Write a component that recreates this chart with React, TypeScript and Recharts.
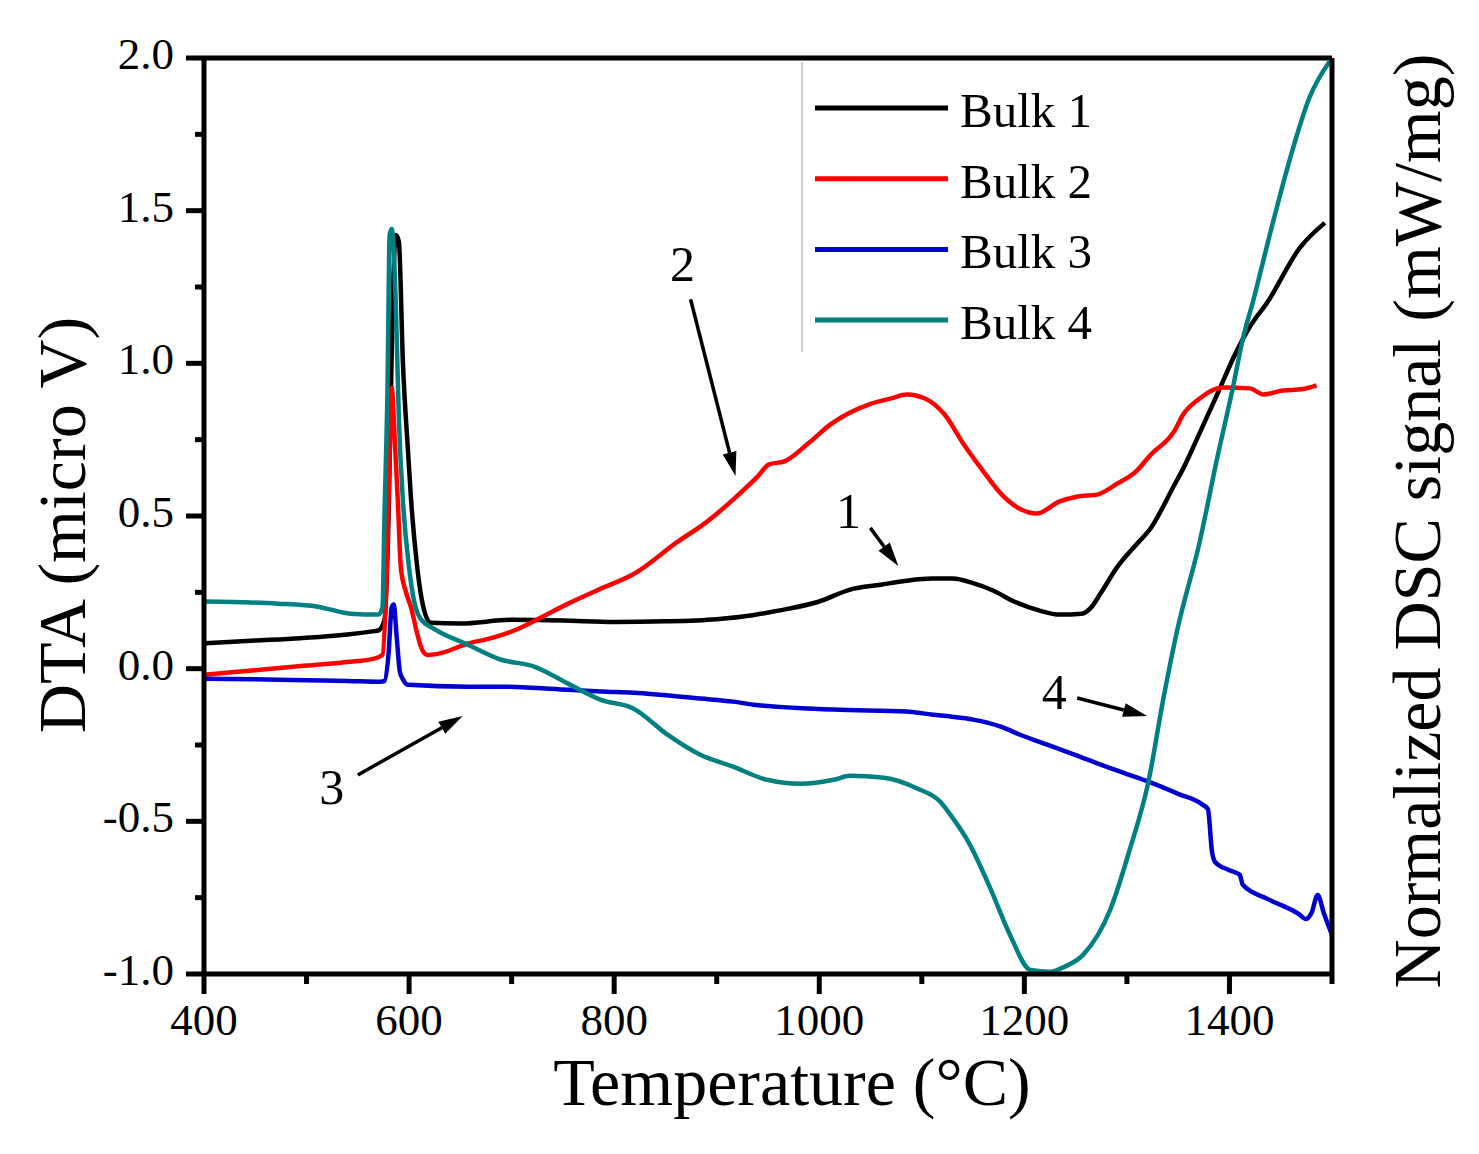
import React from 'react';
import { LineChart, Line, XAxis, YAxis, ReferenceLine, ReferenceDot, Legend } from 'recharts';

const FONT = '"Liberation Serif", "Times New Roman", serif';

const xTicks = [400, 500, 600, 700, 800, 900, 1000, 1100, 1200, 1300, 1400, 1500];
const yTicks = [-1, -0.75, -0.5, -0.25, 0, 0.25, 0.5, 0.75, 1, 1.25, 1.5, 1.75, 2];

const bulk1T = [400, 450, 494, 540, 566, 570, 576, 580, 584, 587, 590, 594, 599, 602, 608, 614, 621, 650, 700, 750, 800, 850, 900, 935, 960, 1000, 1030, 1060, 1085, 1110, 1130, 1150, 1170, 1190, 1215, 1234, 1256, 1265, 1275, 1290, 1309, 1323, 1346, 1355, 1368, 1388, 1407, 1420, 1437, 1469, 1493];
const bulk1V = [0.083, 0.092, 0.1, 0.112, 0.123, 0.125, 0.16, 0.5, 1.2, 1.42, 1.4, 1.0, 0.71, 0.55, 0.33, 0.2, 0.15, 0.148, 0.16, 0.158, 0.153, 0.155, 0.162, 0.175, 0.19, 0.22, 0.259, 0.275, 0.288, 0.295, 0.295, 0.28, 0.255, 0.22, 0.19, 0.177, 0.18, 0.2, 0.25, 0.33, 0.406, 0.459, 0.6, 0.656, 0.75, 0.898, 1.04, 1.12, 1.2, 1.38, 1.46];

const bulk2T = [400, 450, 500, 540, 566, 574, 578, 581, 583, 586, 589, 592, 597, 602, 608, 613, 618, 630, 657, 680, 706, 730, 755, 787, 819, 862, 890, 917, 940, 951, 966, 990, 1011, 1048, 1070, 1085, 1103, 1122, 1141, 1160, 1178, 1197, 1212, 1234, 1252, 1271, 1290, 1309, 1323, 1346, 1355, 1371, 1381, 1394, 1420, 1433, 1452, 1470, 1485];
const bulk2V = [-0.02, -0.005, 0.01, 0.022, 0.033, 0.045, 0.3, 0.7, 0.92, 0.75, 0.55, 0.33, 0.25, 0.2, 0.113, 0.06, 0.045, 0.05, 0.082, 0.1, 0.13, 0.17, 0.213, 0.262, 0.31, 0.416, 0.48, 0.557, 0.63, 0.669, 0.679, 0.74, 0.8, 0.865, 0.885, 0.898, 0.885, 0.833, 0.734, 0.646, 0.57, 0.521, 0.508, 0.547, 0.564, 0.57, 0.605, 0.646, 0.7, 0.777, 0.833, 0.885, 0.908, 0.921, 0.918, 0.898, 0.911, 0.915, 0.928];

const bulk3T = [400, 450, 500, 540, 572, 576, 580, 583, 585, 588, 591, 594, 599, 657, 689, 755, 787, 819, 884, 916, 936, 1014, 1085, 1111, 1128, 1150, 1177, 1197, 1225, 1250, 1275, 1300, 1321, 1350, 1374, 1379, 1383, 1386, 1400, 1410, 1413, 1437, 1469, 1474, 1480, 1486, 1492, 1500];
const bulk3V = [-0.033, -0.035, -0.038, -0.04, -0.043, -0.04, 0.05, 0.2, 0.21, 0.1, -0.01, -0.035, -0.053, -0.059, -0.059, -0.069, -0.075, -0.079, -0.098, -0.108, -0.118, -0.134, -0.14, -0.151, -0.157, -0.167, -0.19, -0.218, -0.252, -0.283, -0.315, -0.345, -0.37, -0.41, -0.446, -0.46, -0.6, -0.633, -0.66, -0.675, -0.708, -0.754, -0.807, -0.82, -0.8, -0.741, -0.8, -0.872];

const bulk4T = [400, 472, 511, 543, 570, 574, 576, 579, 581, 583, 587, 590, 594, 600, 605, 611, 624, 657, 689, 722, 755, 787, 819, 852, 884, 916, 949, 982, 1014, 1030, 1063, 1096, 1118, 1128, 1147, 1167, 1186, 1206, 1225, 1240, 1257, 1284, 1303, 1321, 1335, 1349, 1371, 1388, 1404, 1413, 1423, 1440, 1459, 1478, 1498];
const bulk4V = [0.22, 0.213, 0.203, 0.18, 0.177, 0.2, 0.5, 0.93, 1.42, 1.44, 1.2, 0.82, 0.55, 0.33, 0.22, 0.164, 0.131, 0.079, 0.03, 0.007, -0.049, -0.102, -0.131, -0.216, -0.282, -0.321, -0.364, -0.377, -0.364, -0.351, -0.357, -0.393, -0.436, -0.479, -0.577, -0.721, -0.872, -0.987, -0.993, -0.975, -0.938, -0.787, -0.59, -0.37, -0.108, 0.125, 0.416, 0.689, 0.931, 1.08, 1.203, 1.43, 1.67, 1.87, 1.99];

const seriesNames = ['Bulk 1', 'Bulk 2', 'Bulk 3', 'Bulk 4'];

const annotText = ['2', '1', '3', '4'];
const annotX = [866.7, 1028.4, 524.7, 1229.1];
const annotY = [1.27, 0.461, -0.443, -0.132];

const arrowFromX = [874.5, 1049.8, 550, 1251.5];
const arrowFromY = [1.21, 0.461, -0.348, -0.096];
const arrowToX = [918.3, 1077.1, 652.3, 1319.7];
const arrowToY = [0.631, 0.336, -0.155, -0.155];

const toPoints = (t: number[], v: number[]) => t.map((x, i) => ({ t: x, v: v[i] }));
const bulk1 = toPoints(bulk1T, bulk1V);
const bulk2 = toPoints(bulk2T, bulk2V);
const bulk3 = toPoints(bulk3T, bulk3V);
const bulk4 = toPoints(bulk4T, bulk4V);

const isMajorY = (v: number) => Math.abs(v * 2 - Math.round(v * 2)) < 1e-6;
const isMajorX = (v: number) => (v - 400) % 200 === 0;

const LeftTick = (p: any) => {
  const v = p.payload.value;
  const major = isMajorY(v);
  return (
    <g>
      <line x1={p.x} x2={p.x - (major ? 18 : 9)} y1={p.y} y2={p.y} stroke="#000" strokeWidth={5} />
      {major && (
        <text x={p.x - 30} y={p.y + 11} textAnchor="end" fontSize={45} fontFamily={FONT} fill="#000">
          {v.toFixed(1)}
        </text>
      )}
    </g>
  );
};

const RightTick = (p: any) => {
  const v = p.payload.value;
  const major = isMajorY(v);
  return <line x1={p.x} x2={p.x + (major ? 18 : 9)} y1={p.y} y2={p.y} stroke="#000" strokeWidth={5} />;
};

const BottomTick = (p: any) => {
  const v = p.payload.value;
  const major = isMajorX(v);
  return (
    <g>
      <line x1={p.x} x2={p.x} y1={p.y} y2={p.y + (major ? 20 : 10)} stroke="#000" strokeWidth={5} />
      {major && (
        <text x={p.x} y={p.y + 61} textAnchor="middle" fontSize={45} fontFamily={FONT} fill="#000">
          {v}
        </text>
      )}
    </g>
  );
};

const ArrowShape = (p: any) => {
  const { x1, y1, x2, y2 } = p;
  const ang = Math.atan2(y2 - y1, x2 - x1);
  const L = 24;
  const W = 7;
  const bx = x2 - L * Math.cos(ang);
  const by = y2 - L * Math.sin(ang);
  const px = -Math.sin(ang) * W;
  const py = Math.cos(ang) * W;
  return (
    <g>
      <line x1={x1} y1={y1} x2={bx} y2={by} stroke="#000" strokeWidth={3.5} />
      <polygon points={`${x2},${y2} ${bx + px},${by + py} ${bx - px},${by - py}`} fill="#000" />
    </g>
  );
};

const LegendBox = (props: any) => {
  const payload = props.payload || [];
  return (
    <svg width={330} height={310} style={{ display: 'block' }}>
      <line x1={8} x2={8} y1={8} y2={298} stroke="#cfcfcf" strokeWidth={2} />
      {payload.map((e: any, i: number) => {
        const y = 54 + i * 70.7;
        return (
          <g key={i}>
            <line x1={21} x2={154} y1={y} y2={y} stroke={e.color} strokeWidth={5} />
            <text x={166} y={y + 19} fontSize={49} fontFamily={FONT} fill="#000">
              {e.value}
            </text>
          </g>
        );
      })}
    </svg>
  );
};

export default function App() {
  return (
    <div style={{ width: 1470, height: 1140, position: 'relative', background: '#fff' }}>
      <LineChart width={1470} height={1140} margin={{ top: 50, right: 0, bottom: 0, left: 0 }}>
        <XAxis
          dataKey="t"
          type="number"
          domain={[400, 1500]}
          ticks={xTicks}
          interval={0}
          height={174}
          tickSize={0}
          tickMargin={0}
          tickLine={false}
          tick={<BottomTick />}
          axisLine={{ stroke: '#000', strokeWidth: 5 }}
          allowDuplicatedCategory={false}
          label={{
            content: (p: any) => (
              <text x={784} y={1097} textAnchor="middle" fontSize={68} fontFamily={FONT} fill="#000">
                Temperature (°C)
              </text>
            ),
          }}
        />
        <YAxis
          yAxisId="left"
          type="number"
          domain={[-1, 2]}
          ticks={yTicks}
          interval={0}
          width={196}
          tickSize={0}
          tickMargin={0}
          tickLine={false}
          tick={<LeftTick />}
          axisLine={{ stroke: '#000', strokeWidth: 5 }}
          label={{
            content: (p: any) => (
              <text x={77} y={517} transform="rotate(-90, 77, 517)" textAnchor="middle" fontSize={68} fontFamily={FONT} fill="#000">
                DTA (micro V)
              </text>
            ),
          }}
        />
        <YAxis
          yAxisId="right"
          orientation="right"
          type="number"
          domain={[-1, 2]}
          ticks={yTicks}
          interval={0}
          width={146}
          tickSize={0}
          tickMargin={0}
          tickLine={false}
          tick={<RightTick />}
          axisLine={{ stroke: '#000', strokeWidth: 5 }}
          label={{
            content: (p: any) => (
              <text x={1432} y={513} transform="rotate(-90, 1432, 513)" textAnchor="middle" fontSize={68} fontFamily={FONT} fill="#000">
                Normalized DSC signal (mW/mg)
              </text>
            ),
          }}
        />
        <ReferenceLine yAxisId="left" y={2} stroke="#000" strokeWidth={5} />
        <Legend
          layout="vertical"
          align="center"
          verticalAlign="middle"
          content={<LegendBox />}
          wrapperStyle={{ position: 'absolute', left: 786, top: 46, width: 330, height: 310, margin: 0, padding: 0 }}
        />
        <Line yAxisId="left" data={bulk1} dataKey="v" name={seriesNames[0]} type="monotone" stroke="#000000" strokeWidth={4.5} dot={false} isAnimationActive={false} />
        <Line yAxisId="left" data={bulk2} dataKey="v" name={seriesNames[1]} type="monotone" stroke="#ff0000" strokeWidth={4.5} dot={false} isAnimationActive={false} />
        <Line yAxisId="left" data={bulk3} dataKey="v" name={seriesNames[2]} type="monotone" stroke="#0000d0" strokeWidth={4.5} dot={false} isAnimationActive={false} />
        <Line yAxisId="left" data={bulk4} dataKey="v" name={seriesNames[3]} type="monotone" stroke="#008080" strokeWidth={4.5} dot={false} isAnimationActive={false} />
        {annotText.map((_, i) => (
          <ReferenceLine
            key={'a' + i}
            yAxisId="left"
            segment={[
              { x: arrowFromX[i], y: arrowFromY[i] },
              { x: arrowToX[i], y: arrowToY[i] },
            ]}
            shape={(p: any) => <ArrowShape {...p} />}
          />
        ))}
        {annotText.map((txt, i) => (
          <ReferenceDot
            key={'t' + i}
            yAxisId="left"
            x={annotX[i]}
            y={annotY[i]}
            r={0}
            shape={(p: any) => (
              <text x={p.cx} y={p.cy} textAnchor="middle" fontSize={50} fontFamily={FONT} fill="#000">
                {txt}
              </text>
            )}
          />
        ))}
      </LineChart>
    </div>
  );
}
